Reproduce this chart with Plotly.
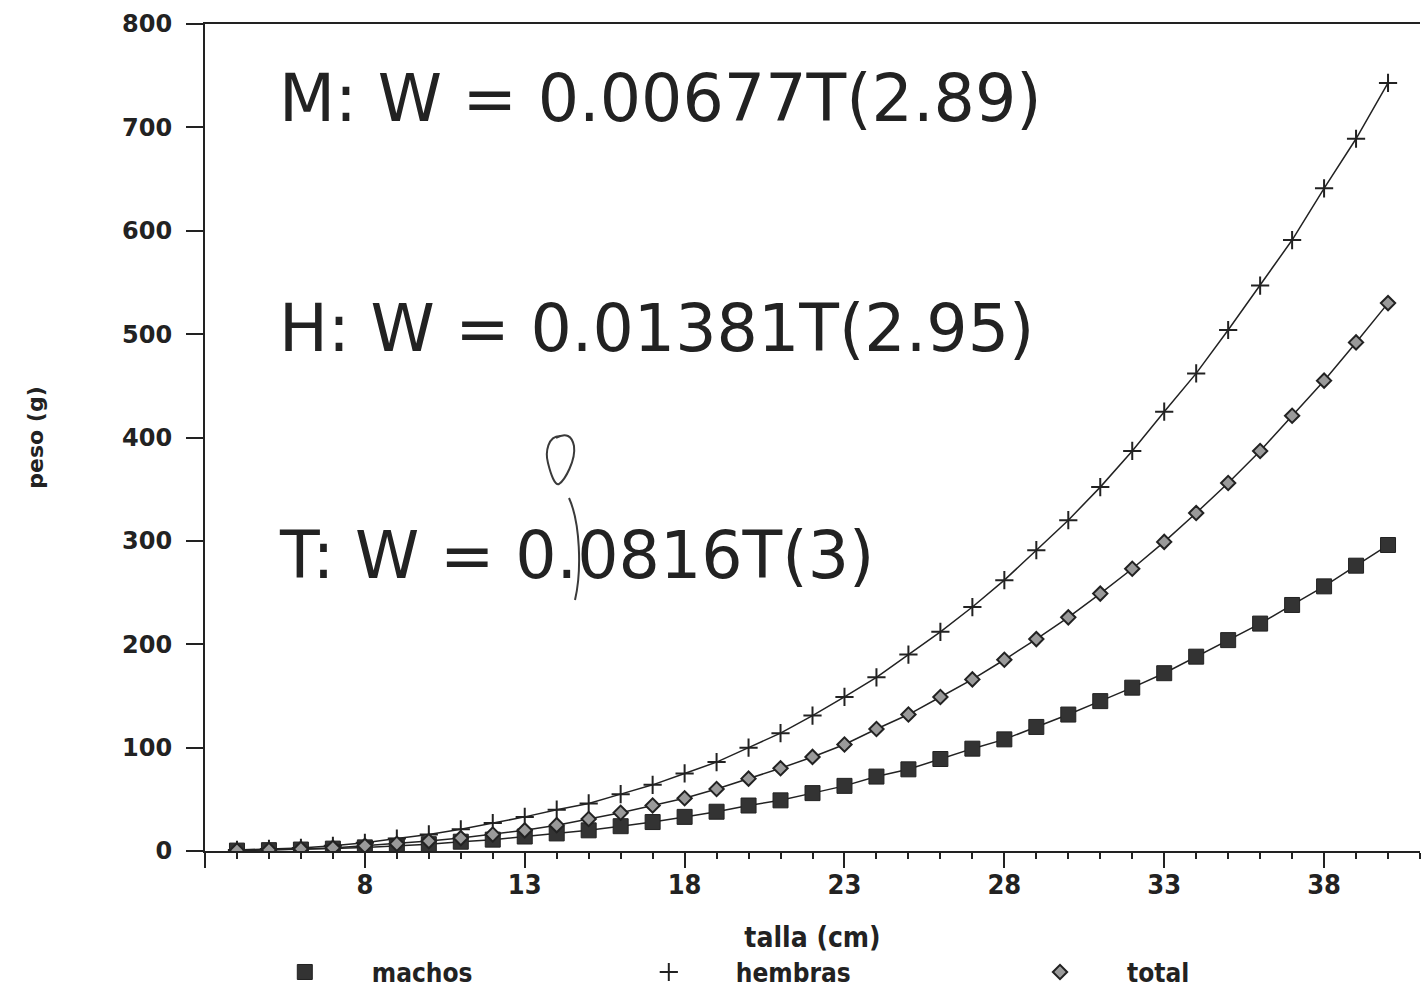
import plotly.graph_objects as go

# ---------------- data ----------------
talla = list(range(4, 41))  # cm

machos = [0.4, 0.8, 1.4, 2.3, 3.5, 5, 6.6, 9, 11, 14, 17, 20, 24, 28, 33, 38, 44,
          49, 56, 63, 72, 79, 89, 99, 108, 120, 132, 145, 158, 172, 188, 204,
          220, 238, 256, 276, 296]

hembras = [1, 2, 3, 5, 8, 12, 16, 21, 27, 33, 40, 46, 55, 64, 75, 86, 100,
           114, 131, 149, 168, 190, 212, 236, 262, 291, 320, 352, 387, 425,
           462, 504, 547, 591, 641, 689, 743]

total = [0.5, 1, 2, 3, 5, 7, 9.6, 12.5, 16, 20, 25, 31, 37, 44, 51, 60, 70,
         80, 91, 103, 118, 132, 149, 166, 185, 205, 226, 249, 273, 299, 327,
         356, 387, 421, 455, 492, 530]

x_tick_vals = [3, 8, 13, 18, 23, 28, 33, 38]
x_tick_text = ["", "8", "13", "18", "23", "28", "33", "38"]
y_tick_vals = [0, 100, 200, 300, 400, 500, 600, 700, 800]

equations = ["M: W = 0.00677T(2.89)", "H: W = 0.01381T(2.95)", "T: W = 0.0816T(3)"]
series_names = ["machos", "hembras", "total"]

# ---------------- layout geometry ----------------
W, H = 1421, 990
L, R, T, B = 205, 1, 24, 139
plot_w = W - L - R
plot_h = H - T - B


def px(xp, yp):
    """convert page pixel to paper coords (decoration only)"""
    return (xp - L) / plot_w, (H - B - yp) / plot_h


INK = "#222222"

styles = [
    dict(symbol="square", size=15, color="#333333",
         line=dict(color="#222222", width=1)),
    dict(symbol="cross-thin", size=13, color=INK,
         line=dict(color=INK, width=2)),
    dict(symbol="diamond", size=11, color="#9a9a9a",
         line=dict(color=INK, width=2)),
]
legend_ids = ["legend", "legend", "legend2"]

fig = go.Figure()

for name, vals, mk in zip(series_names, [machos, hembras, total], styles):
    fig.add_trace(go.Scatter(
        x=talla, y=vals, name=name, mode="lines+markers",
        line=dict(color=INK, width=1.5), marker=mk, showlegend=False,
        legendgroup=name,
    ))

# legend entries show only the symbol, as in the original
for name, mk, lg in zip(series_names, styles, legend_ids):
    fig.add_trace(go.Scatter(
        x=[None], y=[None], name=name, mode="markers", marker=mk,
        showlegend=True, legendgroup=name, legend=lg,
    ))

# equations
eq_pos = [(277, 98), (277, 328), (277, 555)]
for txt, (xp, yp) in zip(equations, eq_pos):
    ax, ay = px(xp, yp)
    fig.add_annotation(
        text=txt, xref="paper", yref="paper", x=ax, y=ay,
        xanchor="left", yanchor="middle", showarrow=False,
        font=dict(family="DejaVu Sans", size=65, color="#222222"),
    )


# handwritten correction marks (decoration)
def path_from(cmds):
    out = []
    for item in cmds:
        if isinstance(item, str):
            out.append(item)
        else:
            a, b = px(*item)
            out.append(f"{a:.5f},{b:.5f}")
    return " ".join(out)


loop = path_from(["M", (560, 436),
                  "C", (548, 436), (545, 452), (548, 463),
                  "C", (551, 475), (555, 486), (559, 484),
                  "C", (565, 480), (576, 460), (574, 446),
                  "C", (572, 436), (566, 432), (556, 438)])
bracket = path_from(["M", (569, 498), "C", (580, 522), (582, 570), (575, 600)])
for p in (loop, bracket):
    fig.add_shape(type="path", path=p, xref="paper", yref="paper",
                  line=dict(color="#3a3a3a", width=2))

legend_font = dict(family="DejaVu Sans Condensed", size=26, color="#222222",
                   weight="bold")

fig.update_layout(
    width=W, height=H,
    margin=dict(l=L, r=R, t=T, b=B, autoexpand=False),
    paper_bgcolor="white", plot_bgcolor="white",
    showlegend=True,
    legend=dict(
        orientation="h", x=0.027, y=-0.118, xanchor="left", yanchor="top",
        xref="paper", yref="paper",
        itemwidth=124, entrywidth=225, entrywidthmode="pixels",
        font=legend_font, bgcolor="rgba(0,0,0,0)",
    ),
    legend2=dict(
        orientation="h", x=(993 - L) / plot_w, y=-0.118, xanchor="left",
        yanchor="top", xref="paper", yref="paper",
        itemwidth=124, font=legend_font, bgcolor="rgba(0,0,0,0)",
    ),
    xaxis=dict(
        range=[3, 41], showgrid=False, zeroline=False,
        showline=True, linecolor=INK, linewidth=2, mirror=True,
        tickmode="array", tickvals=x_tick_vals, ticktext=x_tick_text,
        ticks="outside", ticklen=15, tickwidth=2, tickcolor=INK,
        ticklabelstandoff=-6,
        minor=dict(dtick=1, tick0=3, ticks="outside", ticklen=6,
                   tickwidth=1.5, tickcolor=INK),
        tickfont=dict(family="DejaVu Sans Condensed", size=27,
                      color="#222222", weight="bold"),
        title=dict(text="talla (cm)", standoff=28,
                   font=dict(family="DejaVu Sans Condensed", size=28,
                             color="#222222", weight="bold")),
    ),
    yaxis=dict(
        range=[0, 800], showgrid=False, zeroline=False,
        showline=True, linecolor=INK, linewidth=2,
        tickmode="array", tickvals=y_tick_vals,
        ticks="outside", ticklen=17, tickwidth=2, tickcolor=INK,
        ticklabelstandoff=9,
        tickfont=dict(family="DejaVu Sans", size=24, color="#222222",
                      weight="bold"),
        title=dict(text="peso (g)", standoff=72,
                   font=dict(family="DejaVu Sans", size=22, color="#222222",
                             weight="bold")),
    ),
)

fig.write_html("out.html")
